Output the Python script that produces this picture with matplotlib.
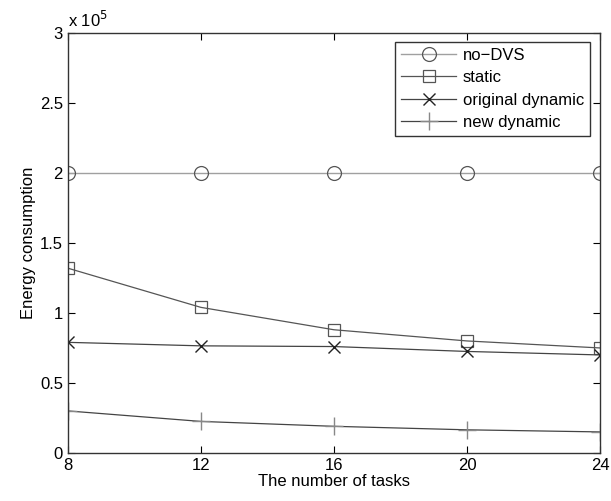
import matplotlib.pyplot as plt

plt.rcParams['font.family'] = ['Liberation Sans', 'DejaVu Sans']

tasks = [8, 12, 16, 20, 24]
# energy values in units of 1e5
no_dvs = [2.0, 2.0, 2.0, 2.0, 2.0]
static = [1.32, 1.04, 0.88, 0.80, 0.75]
orig_dynamic = [0.79, 0.765, 0.76, 0.725, 0.70]
new_dynamic = [0.30, 0.225, 0.19, 0.165, 0.15]

fig = plt.figure(figsize=(6.11, 5.01), dpi=100)
ax = fig.add_axes([0.111, 0.096, 0.871, 0.838])

ax.plot(tasks, no_dvs, color='#a0a0a0', lw=1.0, marker='o', markersize=10,
        markerfacecolor='none', markeredgecolor='#555555', markeredgewidth=0.9,
        label='no\u2212DVS')
ax.plot(tasks, static, color='#555555', lw=0.9, marker='s', markersize=9,
        markerfacecolor='none', markeredgecolor='#555555', markeredgewidth=0.9,
        label='static')
ax.plot(tasks, orig_dynamic, color='#444444', lw=0.9, marker='x', markersize=9,
        markeredgecolor='#222222', markeredgewidth=1.0, label='original dynamic')
ax.plot(tasks, new_dynamic, color='#444444', lw=0.9, marker='+', markersize=13,
        markeredgecolor='#888888', markeredgewidth=1.0, label='new dynamic')

ax.set_xlim(8, 24)
ax.set_ylim(0, 3)
ax.set_xticks(tasks)
ax.set_yticks([0, 0.5, 1, 1.5, 2, 2.5, 3])
ax.set_yticklabels(['0', '0.5', '1', '1.5', '2', '2.5', '3'])
ax.tick_params(direction='in', top=True, right=True, labelsize=12, length=5, width=0.8)
for s in ax.spines.values():
    s.set_linewidth(1.0)
    s.set_color('#333333')

ax.set_xlabel('The number of tasks', fontsize=12, labelpad=1)
ax.set_ylabel('Energy consumption', fontsize=12, labelpad=3)
ax.text(0.0, 1.008, 'x 10$^5$', transform=ax.transAxes, fontsize=12, ha='left', va='bottom')

leg = ax.legend(loc='upper right', bbox_to_anchor=(0.981, 0.979), fontsize=12,
                fancybox=False, framealpha=1, edgecolor='#333333',
                handlelength=3.3, handletextpad=0.4, labelspacing=0.45,
                borderpad=0.35, borderaxespad=0)
leg.get_frame().set_linewidth(1.0)

fig.savefig('out.png', dpi=100)
